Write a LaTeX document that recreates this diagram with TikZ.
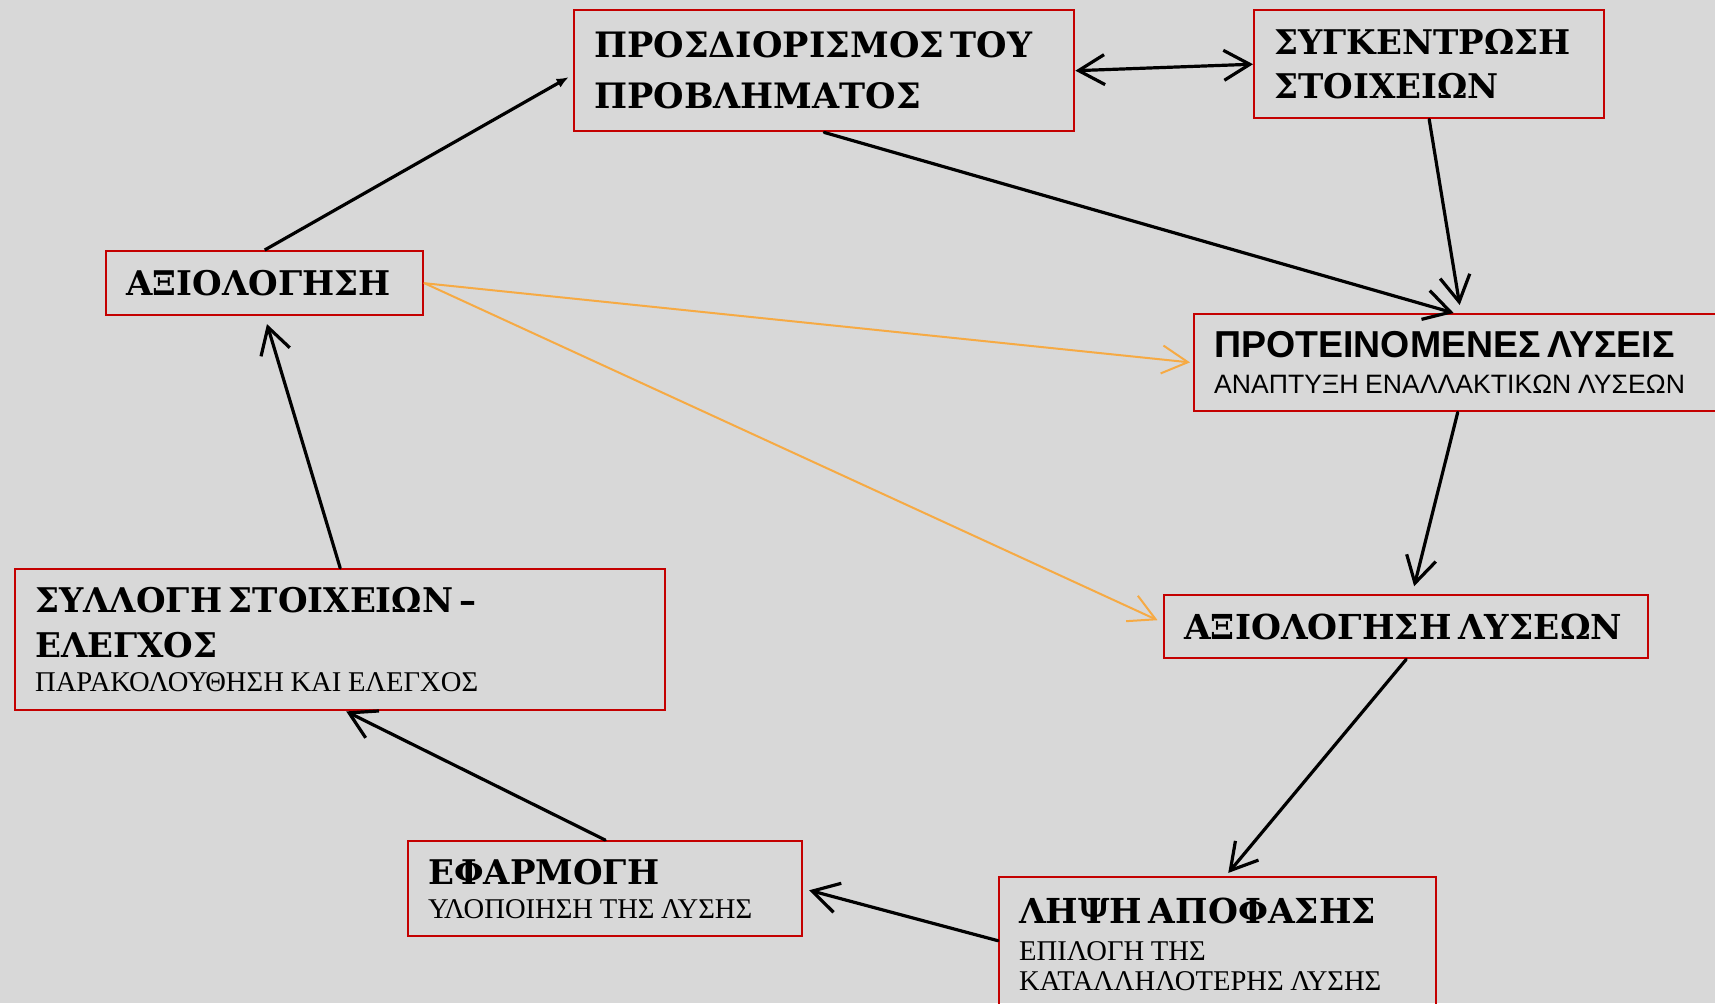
\documentclass[tikz,border=0pt]{standalone}
\usepackage{fontspec}
\usetikzlibrary{arrows.meta}

\newfontfamily\headserif{DejaVu Serif}
\newfontfamily\noteserif{Liberation Serif}
\newfontfamily\notesans{Liberation Sans}
\newcommand\headtext[2]{\headserif\bfseries\fontsize{#1}{#2}\selectfont}
\newcommand\notetext[2]{\noteserif\fontsize{#1}{#2}\selectfont}

\definecolor{paper}{RGB}{216,216,216}
\definecolor{boxred}{RGB}{196,0,0}
\definecolor{linkorange}{RGB}{246,170,68}

\begin{document}
\begin{tikzpicture}[x=0.5pt, y=-0.5pt,
    stepbox/.style={draw=boxred, line width=1.2pt, anchor=north west,
      align=left, inner xsep=10pt, inner ysep=0pt},
    link/.style={line width=1.6pt, line cap=round,
      -{Straight Barb[length=13pt,width=15pt]}},
    hint/.style={linkorange, line width=1pt, line cap=round,
      -{Straight Barb[length=13pt,width=14pt]}}]

    \useasboundingbox (0,0) rectangle (1715,1003);
    \clip (0,0) rectangle (1715,1003);
    \fill[paper] (0,0) rectangle (1715,1003);

    \node[stepbox, text width=230pt, minimum height=60.5pt] (probdef) at (573,9)
      {\headtext{17.5}{25.5}ΠΡΟΣΔΙΟΡΙΣΜΟΣ ΤΟΥ\\ΠΡΟΒΛΗΜΑΤΟΣ\par};

    \node[stepbox, text width=155pt, minimum height=54pt] (collect) at (1253,9)
      {\headtext{17}{22}ΣΥΓΚΕΝΤΡΩΣΗ\\ΣΤΟΙΧΕΙΩΝ\par};

    \node[stepbox, text width=243.5pt, minimum height=48.5pt] (propose) at (1193,313)
      {{\notesans\bfseries\fontsize{18.75}{22}\selectfont ΠΡΟΤΕΙΝΟΜΕΝΕΣ ΛΥΣΕΙΣ\par}
       {\notesans\fontsize{13.3}{18}\selectfont ΑΝΑΠΤΥΞΗ ΕΝΑΛΛΑΚΤΙΚΩΝ ΛΥΣΕΩΝ\par}};

    \node[stepbox, text width=138.5pt, minimum height=32pt] (evaluate) at (105,250)
      {\headtext{17}{22}ΑΞΙΟΛΟΓΗΣΗ\par};

    \node[stepbox, text width=222pt, minimum height=31.5pt] (evalsol) at (1163,594)
      {\headtext{17.2}{22}ΑΞΙΟΛΟΓΗΣΗ ΛΥΣΕΩΝ\par};

    \node[stepbox, text width=305pt, minimum height=70.5pt] (monitor) at (14,568)
      {{\headtext{17}{22.5}ΣΥΛΛΟΓΗ ΣΤΟΙΧΕΙΩΝ –\\ΕΛΕΓΧΟΣ\par}
       {\notetext{14.3}{17}ΠΑΡΑΚΟΛΟΥΘΗΣΗ ΚΑΙ ΕΛΕΓΧΟΣ\par}};

    \node[stepbox, text width=177pt, minimum height=47.5pt] (apply) at (407,840)
      {{\headtext{17}{22}ΕΦΑΡΜΟΓΗ\par}
       {\notetext{14.3}{17}ΥΛΟΠΟΙΗΣΗ ΤΗΣ ΛΥΣΗΣ\par}};

    \node[stepbox, text width=198.5pt, minimum height=67.5pt] (decide) at (998,876)
      {{\headtext{17.2}{22}ΛΗΨΗ ΑΠΟΦΑΣΗΣ\par}
       \vspace{3.5pt}
       {\notetext{14.3}{15}ΕΠΙΛΟΓΗ ΤΗΣ\\ΚΑΤΑΛΛΗΛΟΤΕΡΗΣ ΛΥΣΗΣ\par}};

    \draw[line width=1.6pt, -{Latex[length=6pt,width=5pt]}, shorten >=2.5pt]
      (evaluate.north) -- ([yshift=-2pt]probdef.west);
    \draw[link, {Straight Barb[length=13pt,width=15pt]}-{Straight Barb[length=13pt,width=15pt]}]
      (probdef.east) -- (collect.west);
    \draw[link] (probdef.south) -- ([xshift=-2pt]propose.north);
    \draw[link] (collect.south) -- ([xshift=1pt,yshift=4pt]propose.north);
    \draw[link, shorten >=4pt] (propose.south) -- ([xshift=3pt]evalsol.north);
    \draw[link, shorten >=2pt] (evalsol.south) -- ([xshift=4pt]decide.north);
    \draw[link, shorten >=3pt] ([yshift=2pt]decide.west) -- (apply.east);
    \draw[link] (apply.north) -- ([xshift=3pt]monitor.south);
    \draw[link, shorten >=4pt] (monitor.north) -- (evaluate.south);

    \draw[hint, shorten >=1.5pt] (evaluate.east) -- (propose.west);
    \draw[hint, shorten >=3pt] (evaluate.east) -- ([yshift=2pt]evalsol.west);

  \end{tikzpicture}
\end{document}
